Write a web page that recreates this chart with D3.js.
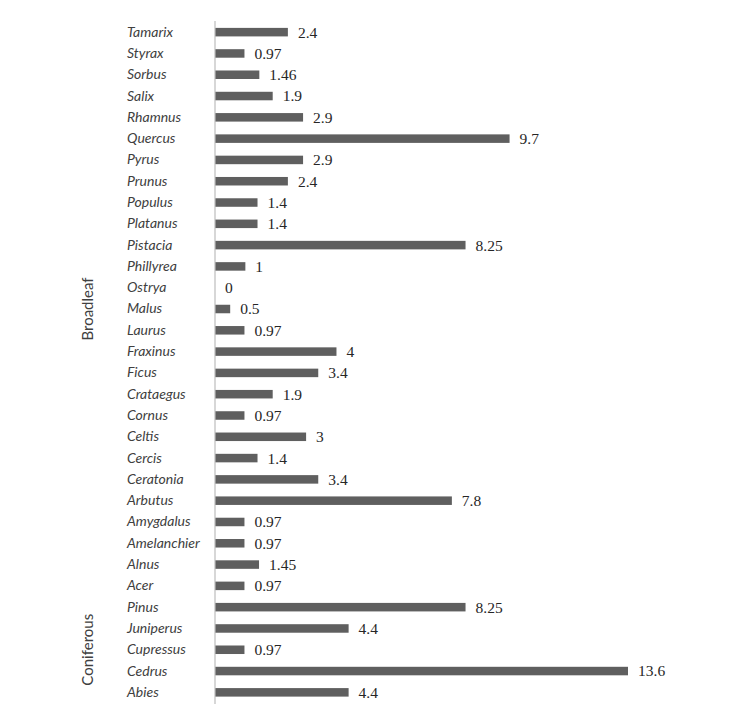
<!DOCTYPE html>
<html>
<head>
<meta charset="utf-8">
<script src="https://cdn.jsdelivr.net/npm/d3@7"></script>
<style>
  body { margin: 0; background: #fff; }
</style>
</head>
<body>
<div id="my_dataviz"></div>
<script>
// data, top to bottom as drawn
var genera = ["Tamarix", "Styrax", "Sorbus", "Salix", "Rhamnus", "Quercus", "Pyrus", "Prunus",
  "Populus", "Platanus", "Pistacia", "Phillyrea", "Ostrya", "Malus", "Laurus", "Fraxinus",
  "Ficus", "Crataegus", "Cornus", "Celtis", "Cercis", "Ceratonia", "Arbutus", "Amygdalus",
  "Amelanchier", "Alnus", "Acer", "Pinus", "Juniperus", "Cupressus", "Cedrus", "Abies"];
var values = [2.4, 0.97, 1.46, 1.9, 2.9, 9.7, 2.9, 2.4,
  1.4, 1.4, 8.25, 1, 0, 0.5, 0.97, 4,
  3.4, 1.9, 0.97, 3, 1.4, 3.4, 7.8, 0.97,
  0.97, 1.45, 0.97, 8.25, 4.4, 0.97, 13.6, 4.4];
var groupNames = ["Broadleaf", "Coniferous"];
var groupFirst = ["Tamarix", "Pinus"];
var groupLast = ["Acer", "Abies"];

var W = 744, H = 720;
var axisX = 215;

var svg = d3.select("#my_dataviz")
  .append("svg")
  .attr("width", W)
  .attr("height", H);

var data = genera.map(function(g, i) { return { name: g, value: values[i] }; });

// scales
var y = d3.scaleBand()
  .domain(genera)
  .range([21.5, 703])
  .paddingInner(0.6)
  .paddingOuter(0.3);

var x = d3.scaleLinear()
  .domain([0, 13.6])
  .range([axisX, 628]);

// bars
svg.selectAll("rect.bar")
  .data(data)
  .enter()
  .append("rect")
  .attr("class", "bar")
  .attr("x", x(0))
  .attr("y", function(d) { return y(d.name); })
  .attr("width", function(d) { return x(d.value) - x(0); })
  .attr("height", y.bandwidth())
  .style("fill", "#5f5f5f");

// left axis with category labels
var axis = svg.append("g")
  .attr("transform", "translate(" + axisX + ",0)")
  .call(d3.axisLeft(y).tickSize(0).tickPadding(0));
axis.select(".domain").remove();
axis.selectAll("text")
  .attr("x", 127 - axisX)
  .style("text-anchor", "start")
  .style("font-family", "Lato, 'Open Sans', sans-serif")
  .style("font-style", "italic")
  .style("font-size", "14px")
  .style("fill", "#404040");

// vertical axis line
svg.append("line")
  .attr("x1", axisX).attr("x2", axisX)
  .attr("y1", 21).attr("y2", 704)
  .style("stroke", "#bdbdbd")
  .style("stroke-width", 1.2);

// value labels
svg.selectAll("text.val")
  .data(data)
  .enter()
  .append("text")
  .attr("class", "val")
  .attr("x", function(d) { return x(d.value) + 10; })
  .attr("y", function(d) { return y(d.name) + y.bandwidth() / 2; })
  .attr("dy", "0.35em")
  .style("font-family", "'Liberation Serif', 'DejaVu Serif', serif")
  .style("font-size", "15.5px")
  .style("fill", "#262626")
  .text(function(d) { return d.value; });

// group labels
groupNames.forEach(function(g, i) {
  var cy = (y(groupFirst[i]) + y(groupLast[i]) + y.bandwidth()) / 2;
  svg.append("text")
    .attr("transform", "translate(88," + cy + ") rotate(-90)")
    .attr("dy", "0.35em")
    .style("text-anchor", "middle")
    .style("font-family", "Lato, 'Open Sans', sans-serif")
    .style("font-size", "15px")
    .style("fill", "#404040")
    .text(g);
});
</script>
</body>
</html>
